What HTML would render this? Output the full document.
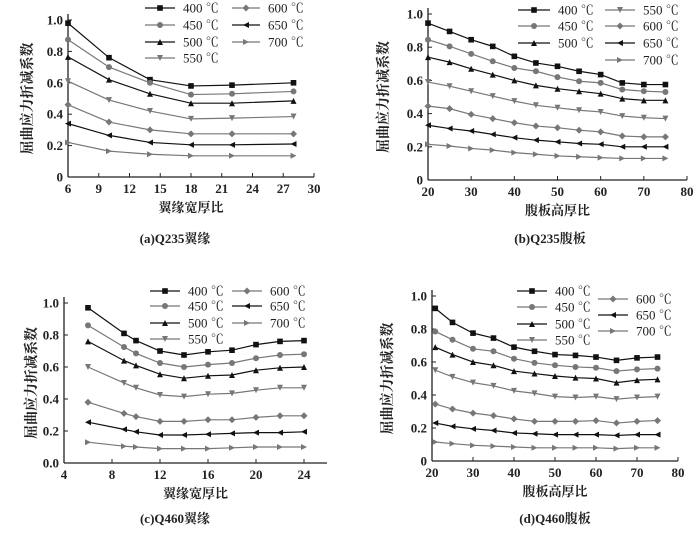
<!DOCTYPE html><html><head><meta charset="utf-8"><style>body{margin:0;background:#fff}svg{display:block}text{font-family:"Liberation Serif","Noto Serif CJK SC",serif;fill:#222}</style></head><body>
<svg id="s" width="700" height="540" xmlns="http://www.w3.org/2000/svg"></svg>
<script>
const S=document.getElementById('s');let h='';
const K='#111',G='#777';
const cols=[K,G,K,G,G,K,G],mk=['sq','ci','up','dn','di','le','ri'];
function marker(t,x,y,c){const r=3;
if(t=='sq')return `<rect x="${x-2.8}" y="${y-2.8}" width="5.6" height="5.6" fill="${c}"/>`;
if(t=='ci')return `<circle cx="${x}" cy="${y}" r="3" fill="${c}"/>`;
if(t=='di')return `<polygon points="${x},${y-3.5} ${x+3.5},${y} ${x},${y+3.5} ${x-3.5},${y}" fill="${c}"/>`;
let p;if(t=='up')p=[[x,y-r],[x+r,y+r],[x-r,y+r]];if(t=='dn')p=[[x,y+r],[x+r,y-r],[x-r,y-r]];if(t=='le')p=[[x-r,y],[x+r,y-r],[x+r,y+r]];if(t=='ri')p=[[x+r,y],[x-r,y-r],[x-r,y+r]];
return `<polygon points="${p.map(a=>a.join(',')).join(' ')}" fill="${c}"/>`;}
function plot(o){const X=v=>o.x0+(v-o.xa)/(o.xb-o.xa)*(o.x1-o.x0),Y=v=>o.y0-v*(o.y0-o.y1);
h+=`<line x1="${o.x0}" y1="${o.y1-6}" x2="${o.x0}" y2="${o.y0}" stroke="#222" stroke-width="1.3"/><line x1="${o.x0}" y1="${o.y0}" x2="${o.xe}" y2="${o.y0}" stroke="#222" stroke-width="1.3"/>`;
for(let i=0;i<=5;i++){const v=i/5,y=Y(v);h+=`<line x1="${o.x0}" y1="${y}" x2="${o.x0+4}" y2="${y}" stroke="#222"/><text x="${o.x0-5}" y="${y+4.5}" font-size="13" font-weight="bold" text-anchor="end">${v==0?o.z:v.toFixed(1)}</text>`;}
o.xt.forEach(v=>{const x=X(v);h+=`<line x1="${x}" y1="${o.y0}" x2="${x}" y2="${o.y0-4}" stroke="#222"/><text x="${x}" y="${o.y0+16}" font-size="13" font-weight="bold" text-anchor="middle">${v}</text>`;});
h+=`<text x="${(o.x0+o.xe)/2}" y="${o.y0+35}" font-size="13" font-weight="bold" text-anchor="middle">${o.xl}</text>`;
h+=`<text transform="translate(${o.yx},${(o.y0+o.y1)/2}) rotate(-90)" font-size="14" font-weight="bold" text-anchor="middle">屈曲应力折减系数</text>`;
h+=`<text x="${o.cx}" y="${o.cy}" font-size="13" font-weight="bold" text-anchor="middle">${o.cap}</text>`;
o.d.forEach((s,i)=>{const pts=s.map((v,j)=>[X(o.xs[j]),Y(v)]);h+=`<polyline points="${pts.map(p=>p.join(',')).join(' ')}" fill="none" stroke="${cols[i]}" stroke-width="1.2"/>`;pts.forEach(p=>h+=marker(mk[i],p[0],p[1],cols[i]));});
o.lg.forEach((l,i)=>{const [a,b,y]=l;h+=`<line x1="${a}" y1="${y}" x2="${b}" y2="${y}" stroke="${cols[i]}" stroke-width="1.3"/>`+marker(mk[i],(a+b)/2,y,cols[i])+`<text x="${b+8}" y="${y+4.5}" font-size="13">${[400,450,500,550,600,650,700][i]} ℃</text>`;});}
const X20=[20,25,30,35,40,45,50,55,60,65,70,75];
plot({x0:68,x1:314,xe:314,xa:6,xb:30,y0:177,y1:20,z:'0',xt:[6,9,12,15,18,21,24,27,30],xs:[6,10,14,18,22,28],xl:'翼缘宽厚比',yx:32,cap:'(a)Q235翼缘',cx:175,cy:243,
d:[[.98,.76,.62,.58,.585,.60],[.875,.70,.60,.525,.53,.545],[.765,.62,.53,.47,.47,.485],[.61,.49,.42,.37,.375,.385],[.46,.35,.30,.275,.275,.275],[.34,.265,.22,.205,.205,.21],[.22,.165,.145,.135,.135,.135]],
lg:[[145,175,8],[145,175,25],[145,175,42],[145,175,58],[232,260,8],[232,260,25],[232,260,42]]});
plot({x0:428,x1:687,xe:687,xa:20,xb:80,y0:180,y1:14,z:'0',xt:[20,30,40,50,60,70,80],xs:X20,xl:'腹板高厚比',yx:388,cap:'(b)Q235腹板',cx:550,cy:243,
d:[[.945,.895,.845,.805,.745,.705,.685,.655,.635,.585,.575,.575],[.845,.805,.76,.715,.675,.655,.62,.595,.585,.545,.535,.53],[.74,.71,.67,.635,.60,.57,.55,.535,.52,.49,.48,.48],[.59,.565,.535,.505,.475,.45,.435,.42,.41,.385,.375,.37],[.445,.43,.395,.37,.345,.325,.315,.30,.29,.265,.26,.26],[.33,.31,.295,.275,.255,.24,.23,.22,.215,.20,.20,.20],[.215,.205,.19,.18,.165,.155,.145,.14,.135,.13,.13,.13]],
lg:[[518,550,10],[518,550,26],[518,550,43],[605,635,10],[605,635,26],[605,635,43],[605,635,60]]});
plot({x0:64,x1:304,xe:327,xa:4,xb:24,y0:463,y1:303,z:'0.0',xt:[4,8,12,16,20,24],xs:[6,9,10,12,14,16,18,20,22,24],xl:'翼缘宽厚比',yx:36,cap:'(c)Q460翼缘',cx:175,cy:523,
d:[[.97,.81,.765,.70,.675,.695,.705,.74,.76,.765],[.86,.725,.685,.625,.60,.615,.625,.655,.675,.68],[.76,.64,.61,.555,.53,.545,.55,.58,.595,.60],[.60,.50,.47,.425,.415,.43,.435,.455,.47,.47],[.38,.31,.29,.26,.26,.27,.27,.285,.295,.295],[.255,.21,.195,.175,.175,.18,.185,.19,.19,.195],[.13,.105,.1,.09,.09,.09,.095,.1,.1,.1]],
lg:[[150,180,291],[150,180,306],[150,180,323],[150,180,339],[232,262,291],[232,262,306],[232,262,323]]});
plot({x0:432,x1:678,xe:678,xa:20,xb:80,y0:461,y1:296,z:'0',xt:[20,30,40,50,60,70,80],xs:[20.8,25,30,35,40,45,50,55,60,65,70,75],xl:'腹板高厚比',yx:392,cap:'(d)Q460腹板',cx:555,cy:523,
d:[[.925,.84,.775,.745,.69,.665,.645,.64,.63,.61,.625,.63],[.785,.735,.68,.665,.62,.595,.58,.57,.565,.545,.555,.56],[.69,.645,.60,.58,.545,.53,.515,.505,.50,.475,.49,.495],[.55,.51,.475,.455,.425,.41,.39,.385,.39,.375,.385,.39],[.345,.315,.29,.275,.255,.24,.24,.24,.245,.23,.24,.245],[.23,.21,.195,.185,.17,.165,.16,.16,.16,.155,.16,.16],[.115,.105,.095,.09,.085,.08,.08,.08,.08,.075,.08,.08]],
lg:[[517,547,291],[517,547,307],[517,547,324],[517,547,340],[598,628,299],[598,628,315],[598,628,331]]});
S.innerHTML=h;
</script></body></html>
